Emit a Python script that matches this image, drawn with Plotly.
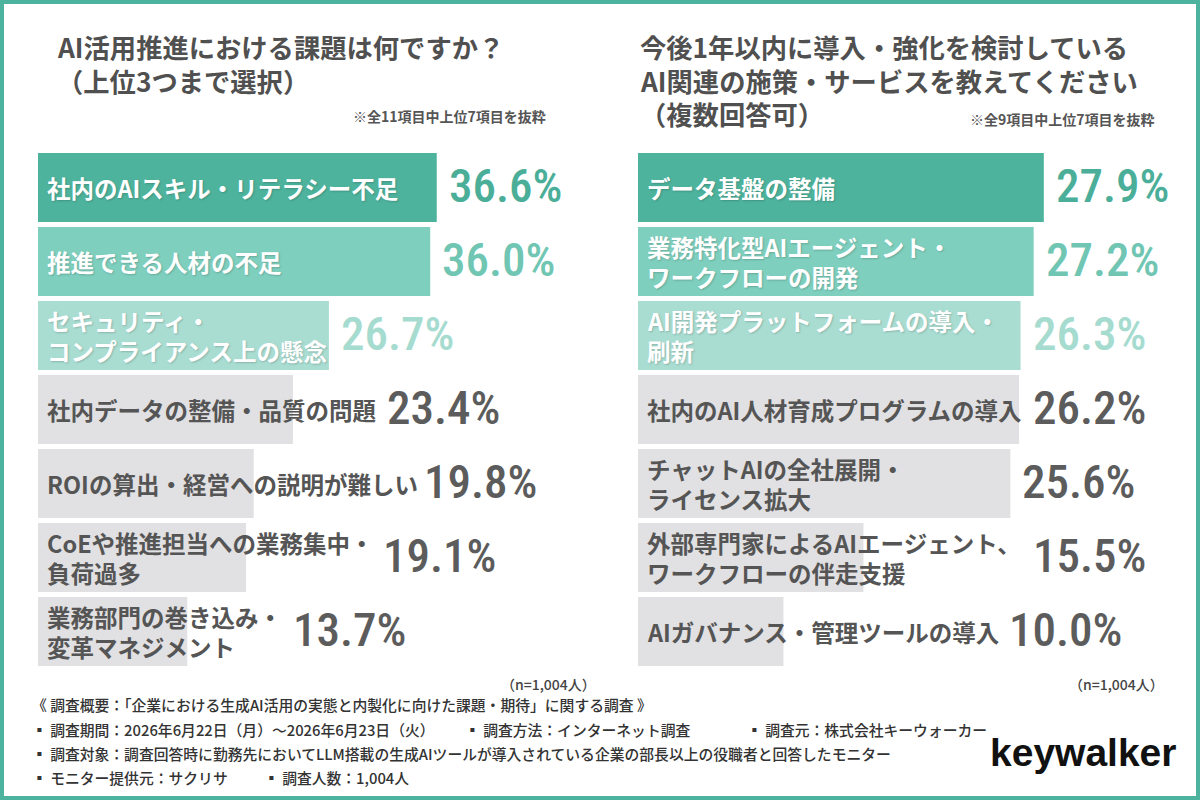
import plotly.graph_objects as go

W, H = 1200, 800

# ---------------- data ----------------
left_labels = [
    "社内のAIスキル・リテラシー不足",
    "推進できる人材の不足",
    "セキュリティ・<br>コンプライアンス上の懸念",
    "社内データの整備・品質の問題",
    "ROIの算出・経営への説明が難しい",
    "CoEや推進担当への業務集中・<br>負荷過多",
    "業務部門の巻き込み・<br>変革マネジメント",
]
left_values = [36.6, 36.0, 26.7, 23.4, 19.8, 19.1, 13.7]

right_labels = [
    "データ基盤の整備",
    "業務特化型AIエージェント・<br>ワークフローの開発",
    "AI開発プラットフォームの導入・<br>刷新",
    "社内のAI人材育成プログラムの導入",
    "チャットAIの全社展開・<br>ライセンス拡大",
    "外部専門家によるAIエージェント、<br>ワークフローの伴走支援",
    "AIガバナンス・管理ツールの導入",
]
right_values = [27.9, 27.2, 26.3, 26.2, 25.6, 15.5, 10.0]

left_title = ["AI活用推進における課題は何ですか？", "（上位3つまで選択）"]
right_title = ["今後1年以内に導入・強化を検討している", "AI関連の施策・サービスを教えてください", "（複数回答可）"]
left_note = "※全11項目中上位7項目を抜粋"
right_note = "※全9項目中上位7項目を抜粋"
n_note = "（n=1,004人）"

footer_title = "《 調査概要：「企業における生成AI活用の実態と内製化に向けた課題・期待」に関する調査 》"
footer_period = "▪ 調査期間：2026年6月22日（月）～2026年6月23日（火）"
footer_method = "▪ 調査方法：インターネット調査"
footer_source = "▪ 調査元：株式会社キーウォーカー"
footer_target = "▪ 調査対象：調査回答時に勤務先においてLLM搭載の生成AIツールが導入されている企業の部長以上の役職者と回答したモニター"
footer_monitor = "▪ モニター提供元：サクリサ"
footer_count = "▪ 調査人数：1,004人"
logo_text = "keywalker"

# ---------------- style ----------------
bar_colors = ["#4db39d", "#7ecfbe", "#a9ddd2"] + ["#e1e0e2"] * 4
label_colors = ["#ffffff"] * 3 + ["#555555"] * 4
value_colors = ["#4bae98", "#70c6b3", "#a6dbd0"] + ["#5c5c5c"] * 4

JP = "Noto Sans CJK JP"
NUM = "Roboto Condensed"
LABEL_FS = 23.5
VALUE_FS = 47
LINE_GAP = 30

LEFT_DOM = (38, 598)
RIGHT_DOM = (638, 1198)
LEFT_MAX = 51.4
RIGHT_MAX = 38.5
Y_DOM = (150.5, 668.5)


def px(x):
    return x / W


def py(y):
    return 1 - y / H


def text_w(s, fs):
    w = 0.0
    for ch in s:
        if ord(ch) < 128:
            w += {"I": 0.3, "i": 0.25, "l": 0.25, "M": 0.85, "W": 0.9, " ": 0.25}.get(
                ch, 0.64 if ch.isupper() else 0.56)
        else:
            w += 1.0
    return w * fs


fig = go.Figure()

panels = [
    (left_labels, left_values, "x", "y", LEFT_DOM, LEFT_MAX),
    (right_labels, right_values, "x2", "y2", RIGHT_DOM, RIGHT_MAX),
]

annotations = []
for labels, values, xa, ya, dom, rmax in panels:
    ys = list(range(len(values)))
    fig.add_trace(go.Bar(
        x=values, y=ys, orientation="h", width=69 / 74,
        marker=dict(color=bar_colors, line=dict(width=0)),
        xaxis=xa, yaxis=ya, hoverinfo="skip", showlegend=False,
    ))
    k = (dom[1] - dom[0]) / rmax
    for i, (lab, v) in enumerate(zip(labels, values)):
        parts = lab.split("<br>")
        n = len(parts)
        for j, part in enumerate(parts):
            annotations.append(dict(
                x=0, y=i, xref=xa, yref=ya, xanchor="left", yanchor="middle",
                xshift=7, yshift=((n - 1) / 2 - j) * LINE_GAP, text=part, showarrow=False,
                font=dict(family=JP, size=LABEL_FS, color=label_colors[i], weight=700,
                          shadow="1px 1px 2px rgba(0,0,0,0.18)" if i < 3 else "none"),
            ))
        tw = max(text_w(part, LABEL_FS) for part in parts)
        shift = max(0.0, 8 + tw - v * k) + 10
        annotations.append(dict(
            x=v, y=i, xref=xa, yref=ya, xanchor="left", yanchor="middle",
            xshift=shift, yshift=2, text=f"{v:.1f}%", showarrow=False,
            font=dict(family=NUM, size=VALUE_FS, color=value_colors[i], weight=500),
        ))

# titles (one annotation per line)
for lines, tx, y0 in ((left_title, 55, 47), (right_title, 638, 47)):
    for j, line in enumerate(lines):
        annotations.append(dict(x=px(tx), y=py(y0 + j * 33.5), xref="paper", yref="paper",
                                xanchor="left", yanchor="middle", text=line, showarrow=False,
                                font=dict(family=JP, size=26.3, color="#505050", weight=700)))

annotations.append(dict(x=px(548), y=py(116), xref="paper", yref="paper", xanchor="right",
                        yanchor="middle", text=left_note, showarrow=False,
                        font=dict(family=JP, size=14, color="#555555", weight=700)))
annotations.append(dict(x=px(1157), y=py(119), xref="paper", yref="paper", xanchor="right",
                        yanchor="middle", text=right_note, showarrow=False,
                        font=dict(family=JP, size=14, color="#555555", weight=700)))
for xr in (598, 1166):
    annotations.append(dict(x=px(xr), y=py(684), xref="paper", yref="paper", xanchor="right",
                            yanchor="middle", text=n_note, showarrow=False,
                            font=dict(family=JP, size=14, color="#444444", weight=500)))

# footer
FOOT_FS = 14.8
footer_items = [
    (footer_title, 30, 704),
    (footer_period, 30, 729),
    (footer_method, 463, 729),
    (footer_source, 745, 729),
    (footer_target, 30, 753),
    (footer_monitor, 30, 777),
    (footer_count, 262, 777),
]
for txt, fx, fy in footer_items:
    annotations.append(dict(x=px(fx), y=py(fy), xref="paper", yref="paper", xanchor="left",
                            yanchor="middle", text=txt, showarrow=False,
                            font=dict(family=JP, size=FOOT_FS, color="#333333", weight=500)))

annotations.append(dict(x=px(988), y=py(752), xref="paper", yref="paper", xanchor="left",
                        yanchor="middle", text=logo_text, showarrow=False,
                        font=dict(family="Liberation Sans", size=39, color="#111111", weight=700)))

axis_common = dict(showgrid=False, zeroline=False, showticklabels=False, ticks="",
                   showline=False, fixedrange=True)

fig.update_layout(
    width=W, height=H,
    margin=dict(l=0, r=0, t=0, b=0),
    paper_bgcolor="#ffffff", plot_bgcolor="rgba(0,0,0,0)",
    xaxis=dict(domain=[px(LEFT_DOM[0]), px(LEFT_DOM[1])], range=[0, LEFT_MAX], **axis_common),
    xaxis2=dict(domain=[px(RIGHT_DOM[0]), px(RIGHT_DOM[1])], range=[0, RIGHT_MAX], **axis_common),
    yaxis=dict(domain=[py(Y_DOM[1]), py(Y_DOM[0])], range=[6.5, -0.5], anchor="x", **axis_common),
    yaxis2=dict(domain=[py(Y_DOM[1]), py(Y_DOM[0])], range=[6.5, -0.5], anchor="x2", **axis_common),
    annotations=annotations,
    shapes=[dict(type="rect", xref="paper", yref="paper", x0=0, x1=1, y0=0, y1=1,
                 line=dict(color="#4db39f", width=8), layer="above")],
    showlegend=False,
)

fig.write_html("out.html", config={"displayModeBar": False})
